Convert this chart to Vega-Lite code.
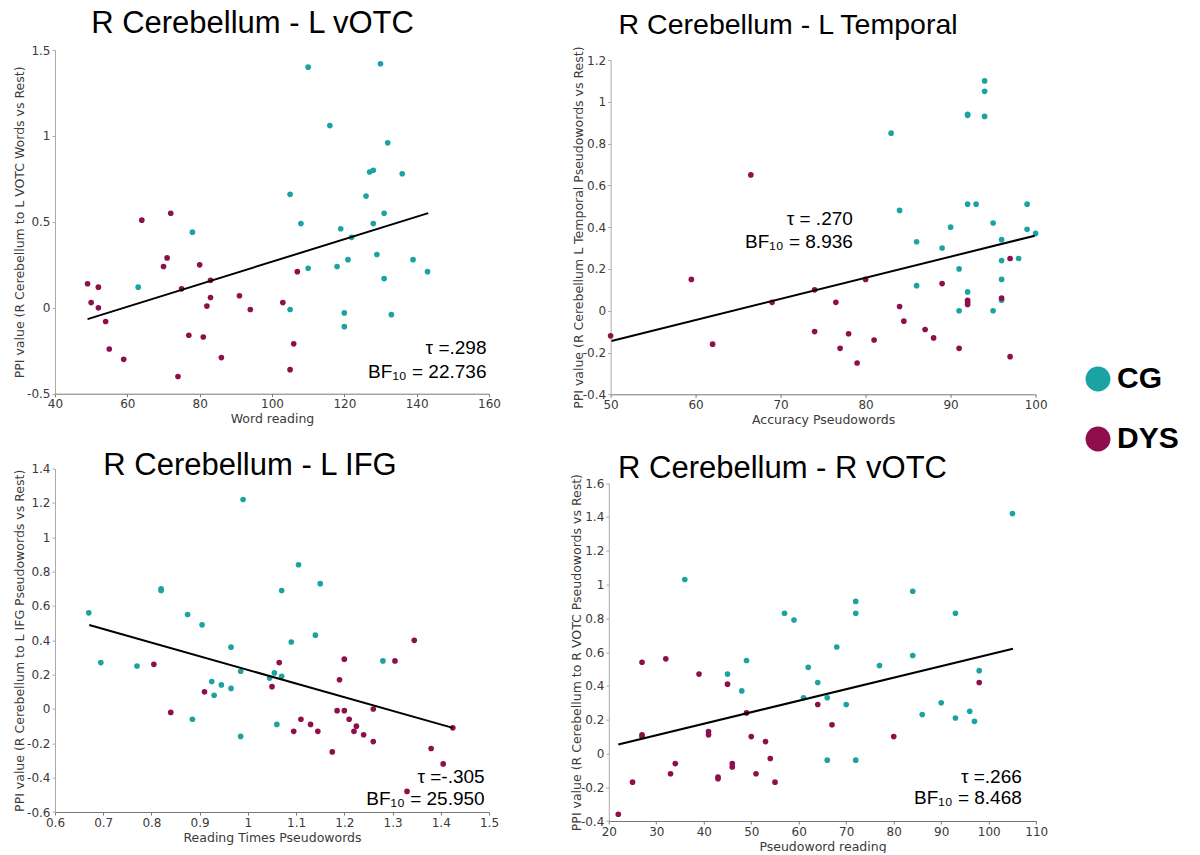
{
  "$schema": "https://vega.github.io/schema/vega-lite/v6.json",
  "padding": {"left": 13, "top": 8, "right": 0, "bottom": 0},
  "background": "white",
  "datasets": {
    "p1": [
      {"x":110,"y":1.40,"group":"CG"},{"x":130,"y":1.42,"group":"CG"},{"x":116,"y":1.06,"group":"CG"},{"x":132,"y":0.96,"group":"CG"},
      {"x":127,"y":0.79,"group":"CG"},{"x":128,"y":0.80,"group":"CG"},{"x":136,"y":0.78,"group":"CG"},{"x":105,"y":0.66,"group":"CG"},
      {"x":126,"y":0.65,"group":"CG"},{"x":131,"y":0.55,"group":"CG"},{"x":108,"y":0.49,"group":"CG"},{"x":119,"y":0.46,"group":"CG"},
      {"x":128,"y":0.49,"group":"CG"},{"x":122,"y":0.41,"group":"CG"},{"x":78,"y":0.44,"group":"CG"},{"x":63,"y":0.12,"group":"CG"},
      {"x":129,"y":0.31,"group":"CG"},{"x":139,"y":0.28,"group":"CG"},{"x":121,"y":0.28,"group":"CG"},{"x":118,"y":0.24,"group":"CG"},
      {"x":110,"y":0.23,"group":"CG"},{"x":143,"y":0.21,"group":"CG"},{"x":131,"y":0.17,"group":"CG"},{"x":105,"y":-0.01,"group":"CG"},
      {"x":120,"y":-0.03,"group":"CG"},{"x":133,"y":-0.04,"group":"CG"},{"x":120,"y":-0.11,"group":"CG"},
      {"x":64,"y":0.51,"group":"DYS"},{"x":72,"y":0.55,"group":"DYS"},{"x":71,"y":0.29,"group":"DYS"},{"x":70,"y":0.24,"group":"DYS"},
      {"x":80,"y":0.25,"group":"DYS"},{"x":49,"y":0.14,"group":"DYS"},{"x":52,"y":0.12,"group":"DYS"},{"x":83,"y":0.16,"group":"DYS"},
      {"x":75,"y":0.11,"group":"DYS"},{"x":91,"y":0.07,"group":"DYS"},{"x":83,"y":0.06,"group":"DYS"},{"x":50,"y":0.03,"group":"DYS"},
      {"x":82,"y":0.01,"group":"DYS"},{"x":52,"y":0.0,"group":"DYS"},{"x":94,"y":-0.01,"group":"DYS"},{"x":54,"y":-0.08,"group":"DYS"},
      {"x":77,"y":-0.16,"group":"DYS"},{"x":81,"y":-0.17,"group":"DYS"},{"x":55,"y":-0.24,"group":"DYS"},{"x":59,"y":-0.30,"group":"DYS"},
      {"x":86,"y":-0.29,"group":"DYS"},{"x":74,"y":-0.40,"group":"DYS"},{"x":107,"y":0.21,"group":"DYS"},{"x":103,"y":0.03,"group":"DYS"},
      {"x":106,"y":-0.21,"group":"DYS"},{"x":105,"y":-0.36,"group":"DYS"}
    ],
    "p2": [
      {"x":94,"y":1.10,"group":"CG"},{"x":94,"y":1.05,"group":"CG"},{"x":92,"y":0.94,"group":"CG"},{"x":92,"y":0.935,"group":"CG"},
      {"x":94,"y":0.93,"group":"CG"},{"x":83,"y":0.85,"group":"CG"},{"x":84,"y":0.48,"group":"CG"},{"x":92,"y":0.51,"group":"CG"},
      {"x":93,"y":0.51,"group":"CG"},{"x":99,"y":0.51,"group":"CG"},{"x":95,"y":0.42,"group":"CG"},{"x":90,"y":0.40,"group":"CG"},
      {"x":99,"y":0.39,"group":"CG"},{"x":100,"y":0.37,"group":"CG"},{"x":86,"y":0.33,"group":"CG"},{"x":96,"y":0.34,"group":"CG"},
      {"x":89,"y":0.30,"group":"CG"},{"x":96,"y":0.24,"group":"CG"},{"x":98,"y":0.25,"group":"CG"},{"x":91,"y":0.20,"group":"CG"},
      {"x":96,"y":0.15,"group":"CG"},{"x":86,"y":0.12,"group":"CG"},{"x":92,"y":0.09,"group":"CG"},{"x":96,"y":0.05,"group":"CG"},
      {"x":91,"y":0.00,"group":"CG"},{"x":95,"y":0.00,"group":"CG"},
      {"x":66.5,"y":0.65,"group":"DYS"},{"x":59.5,"y":0.15,"group":"DYS"},{"x":50,"y":-0.12,"group":"DYS"},{"x":62,"y":-0.16,"group":"DYS"},
      {"x":69,"y":0.04,"group":"DYS"},{"x":74,"y":0.10,"group":"DYS"},{"x":74,"y":-0.10,"group":"DYS"},{"x":76.5,"y":0.04,"group":"DYS"},
      {"x":77,"y":-0.18,"group":"DYS"},{"x":80,"y":0.15,"group":"DYS"},{"x":97,"y":0.25,"group":"DYS"},{"x":89,"y":0.13,"group":"DYS"},
      {"x":92,"y":0.05,"group":"DYS"},{"x":92,"y":0.04,"group":"DYS"},{"x":92,"y":0.03,"group":"DYS"},{"x":96,"y":0.06,"group":"DYS"},
      {"x":84,"y":0.02,"group":"DYS"},{"x":84.5,"y":-0.05,"group":"DYS"},{"x":78,"y":-0.11,"group":"DYS"},{"x":87,"y":-0.09,"group":"DYS"},
      {"x":88,"y":-0.13,"group":"DYS"},{"x":81,"y":-0.14,"group":"DYS"},{"x":91,"y":-0.18,"group":"DYS"},{"x":79,"y":-0.25,"group":"DYS"},
      {"x":97,"y":-0.22,"group":"DYS"}
    ],
    "p3": [
      {"x":0.99,"y":1.22,"group":"CG"},{"x":0.67,"y":0.56,"group":"CG"},{"x":0.82,"y":0.69,"group":"CG"},{"x":0.82,"y":0.70,"group":"CG"},
      {"x":0.875,"y":0.55,"group":"CG"},{"x":0.905,"y":0.49,"group":"CG"},{"x":0.965,"y":0.36,"group":"CG"},{"x":1.105,"y":0.84,"group":"CG"},
      {"x":1.07,"y":0.69,"group":"CG"},{"x":1.15,"y":0.73,"group":"CG"},{"x":1.09,"y":0.39,"group":"CG"},{"x":1.14,"y":0.43,"group":"CG"},
      {"x":0.695,"y":0.27,"group":"CG"},{"x":0.77,"y":0.25,"group":"CG"},{"x":0.985,"y":0.22,"group":"CG"},{"x":0.925,"y":0.16,"group":"CG"},
      {"x":0.945,"y":0.14,"group":"CG"},{"x":0.965,"y":0.12,"group":"CG"},{"x":0.93,"y":0.08,"group":"CG"},{"x":0.885,"y":-0.06,"group":"CG"},
      {"x":0.985,"y":-0.16,"group":"CG"},{"x":1.055,"y":0.21,"group":"CG"},{"x":1.07,"y":0.19,"group":"CG"},{"x":1.045,"y":0.18,"group":"CG"},
      {"x":1.06,"y":-0.09,"group":"CG"},{"x":1.28,"y":0.28,"group":"CG"},
      {"x":1.345,"y":0.40,"group":"DYS"},{"x":0.805,"y":0.26,"group":"DYS"},{"x":0.91,"y":0.10,"group":"DYS"},{"x":0.84,"y":-0.02,"group":"DYS"},
      {"x":1.065,"y":0.27,"group":"DYS"},{"x":1.05,"y":0.13,"group":"DYS"},{"x":1.11,"y":-0.06,"group":"DYS"},{"x":1.095,"y":-0.13,"group":"DYS"},
      {"x":1.13,"y":-0.09,"group":"DYS"},{"x":1.145,"y":-0.13,"group":"DYS"},{"x":1.175,"y":-0.25,"group":"DYS"},{"x":1.19,"y":0.17,"group":"DYS"},
      {"x":1.20,"y":0.29,"group":"DYS"},{"x":1.185,"y":-0.01,"group":"DYS"},{"x":1.20,"y":-0.01,"group":"DYS"},{"x":1.21,"y":-0.06,"group":"DYS"},
      {"x":1.225,"y":-0.10,"group":"DYS"},{"x":1.22,"y":-0.13,"group":"DYS"},{"x":1.24,"y":-0.15,"group":"DYS"},{"x":1.26,"y":-0.19,"group":"DYS"},
      {"x":1.26,"y":0.0,"group":"DYS"},{"x":1.305,"y":0.28,"group":"DYS"},{"x":1.38,"y":-0.23,"group":"DYS"},{"x":1.405,"y":-0.32,"group":"DYS"},
      {"x":1.33,"y":-0.48,"group":"DYS"},{"x":1.425,"y":-0.11,"group":"DYS"}
    ],
    "p4": [
      {"x":105,"y":1.42,"group":"CG"},{"x":36,"y":1.03,"group":"CG"},{"x":84,"y":0.96,"group":"CG"},{"x":72,"y":0.90,"group":"CG"},
      {"x":72,"y":0.83,"group":"CG"},{"x":93,"y":0.83,"group":"CG"},{"x":57,"y":0.83,"group":"CG"},{"x":59,"y":0.79,"group":"CG"},
      {"x":68,"y":0.63,"group":"CG"},{"x":84,"y":0.58,"group":"CG"},{"x":77,"y":0.52,"group":"CG"},{"x":62,"y":0.51,"group":"CG"},
      {"x":49,"y":0.55,"group":"CG"},{"x":98,"y":0.49,"group":"CG"},{"x":45,"y":0.47,"group":"CG"},{"x":48,"y":0.37,"group":"CG"},
      {"x":64,"y":0.42,"group":"CG"},{"x":61,"y":0.33,"group":"CG"},{"x":66,"y":0.33,"group":"CG"},{"x":70,"y":0.29,"group":"CG"},
      {"x":90,"y":0.30,"group":"CG"},{"x":86,"y":0.23,"group":"CG"},{"x":96,"y":0.25,"group":"CG"},{"x":93,"y":0.21,"group":"CG"},
      {"x":97,"y":0.19,"group":"CG"},{"x":66,"y":-0.04,"group":"CG"},{"x":72,"y":-0.04,"group":"CG"},
      {"x":98,"y":0.42,"group":"DYS"},{"x":27,"y":0.54,"group":"DYS"},{"x":32,"y":0.56,"group":"DYS"},{"x":39,"y":0.47,"group":"DYS"},
      {"x":45,"y":0.41,"group":"DYS"},{"x":49,"y":0.24,"group":"DYS"},{"x":64,"y":0.29,"group":"DYS"},{"x":67,"y":0.17,"group":"DYS"},
      {"x":80,"y":0.10,"group":"DYS"},{"x":27,"y":0.11,"group":"DYS"},{"x":27,"y":0.10,"group":"DYS"},{"x":41,"y":0.13,"group":"DYS"},
      {"x":41,"y":0.11,"group":"DYS"},{"x":50,"y":0.10,"group":"DYS"},{"x":53,"y":0.07,"group":"DYS"},{"x":54,"y":-0.03,"group":"DYS"},
      {"x":34,"y":-0.06,"group":"DYS"},{"x":46,"y":-0.06,"group":"DYS"},{"x":46,"y":-0.08,"group":"DYS"},{"x":33,"y":-0.12,"group":"DYS"},
      {"x":51,"y":-0.12,"group":"DYS"},{"x":43,"y":-0.14,"group":"DYS"},{"x":43,"y":-0.15,"group":"DYS"},{"x":25,"y":-0.17,"group":"DYS"},
      {"x":55,"y":-0.17,"group":"DYS"},{"x":22,"y":-0.36,"group":"DYS"}
    ],
    "l1": [{"x":49,"y":-0.066},{"x":143.2,"y":0.551}],
    "l2": [{"x":50.1,"y":-0.145},{"x":99.9,"y":0.359}],
    "l3": [{"x":0.671,"y":0.489},{"x":1.425,"y":-0.11}],
    "l4": [{"x":22,"y":0.053},{"x":105.1,"y":0.62}]
  },
  "config": {
    "view": {"stroke": null},
    "axis": {
      "grid": false, "labelOverlap": false, "tickCount": 40, "labelFlush": false,
      "labelFont": "DejaVu Sans", "labelFontSize": 12, "labelColor": "#3a3a3a",
      "titleFont": "DejaVu Sans", "titleFontSize": 12.5, "titleFontWeight": "normal", "titleColor": "#3a3a3a",
      "tickSize": 3, "tickColor": "#777777", "domainColor": "#777777", "labelPadding": 2, "titlePadding": 3
    },
    "axisY": {"domainColor": "#aaaaaa", "tickColor": "#aaaaaa", "titlePadding": 0},
    "title": {"font": "Liberation Sans", "fontSize": 31, "fontWeight": "normal", "color": "#000000", "anchor": "middle", "frame": "group"},
    "legend": {
      "orient": "none", "legendX": 1028, "legendY": 314, "title": null, "padding": 0,
      "symbolType": "circle", "symbolSize": 620, "symbolOpacity": 1, "symbolStrokeWidth": 0,
      "labelFont": "Liberation Sans", "labelFontSize": 30, "labelFontWeight": "bold", "labelColor": "#000000",
      "rowPadding": 30, "labelOffset": 4
    }
  },
  "spacing": 23.6,
  "vconcat": [
    {
      "spacing": 70.6,
      "hconcat": [
        {
          "title": {"text": "R Cerebellum - L vOTC", "offset": 4, "dx": -19.5},
          "width": 434, "height": 343.7,
          "layer": [
            {"data": {"name": "p1"}, "mark": {"type": "circle", "size": 32, "opacity": 1},
             "encoding": {
               "x": {"field": "x", "type": "quantitative", "scale": {"domain": [40, 160], "nice": false, "zero": false},
                     "axis": {"values": [40, 60, 80, 100, 120, 140, 160], "labelExpr": "datum.value + ''", "title": "Word reading"}},
               "y": {"field": "y", "type": "quantitative", "scale": {"domain": [-0.5, 1.5], "nice": false, "zero": false},
                     "axis": {"values": [-0.5, 0, 0.5, 1, 1.5], "labelExpr": "datum.value + ''", "title": "PPI value (R Cerebellum to L VOTC Words vs Rest)"}},
               "color": {"field": "group", "type": "nominal", "scale": {"domain": ["CG", "DYS"], "range": ["#1ba3a3", "#8e0f4b"]}}
             }},
            {"data": {"name": "l1"}, "mark": {"type": "line", "color": "#000000", "strokeWidth": 2},
             "encoding": {"x": {"field": "x", "type": "quantitative"}, "y": {"field": "y", "type": "quantitative"}}},
            {"data": {"values": [{"t": "τ =.298"}]}, "mark": {"type": "text", "align": "right", "baseline": "alphabetic", "font": "Liberation Sans", "fontSize": 19, "color": "#000000"},
             "encoding": {"x": {"datum": 159.3, "type": "quantitative"}, "y": {"datum": -0.27, "type": "quantitative"}, "text": {"field": "t"}}},
            {"data": {"values": [{"t": "BF₁₀ = 22.736"}]}, "mark": {"type": "text", "align": "right", "baseline": "alphabetic", "font": "Liberation Sans", "fontSize": 19, "color": "#000000"},
             "encoding": {"x": {"datum": 159.3, "type": "quantitative"}, "y": {"datum": -0.407, "type": "quantitative"}, "text": {"field": "t"}}}
          ]
        },
        {
          "title": {"text": "R Cerebellum - L Temporal", "offset": 6, "dx": -35, "fontSize": 28.5},
          "width": 425, "height": 344.3,
          "layer": [
            {"data": {"name": "p2"}, "mark": {"type": "circle", "size": 32, "opacity": 1},
             "encoding": {
               "x": {"field": "x", "type": "quantitative", "scale": {"domain": [50, 100], "nice": false, "zero": false},
                     "axis": {"values": [50, 60, 70, 80, 90, 100], "labelExpr": "datum.value + ''", "title": "Accuracy Pseudowords"}},
               "y": {"field": "y", "type": "quantitative", "scale": {"domain": [-0.4, 1.2], "nice": false, "zero": false, "range": [344.3, 10]},
                     "axis": {"values": [-0.4, -0.2, 0, 0.2, 0.4, 0.6, 0.8, 1, 1.2], "labelExpr": "datum.value + ''", "title": "PPI value (R Cerebellum L Temporal Pseudowords vs Rest)", "titlePadding": -3}},
               "color": {"field": "group", "type": "nominal", "scale": {"domain": ["CG", "DYS"], "range": ["#1ba3a3", "#8e0f4b"]}}
             }},
            {"data": {"name": "l2"}, "mark": {"type": "line", "color": "#000000", "strokeWidth": 2},
             "encoding": {"x": {"field": "x", "type": "quantitative"}, "y": {"field": "y", "type": "quantitative"}}},
            {"data": {"values": [{"t": "τ = .270"}]}, "mark": {"type": "text", "align": "right", "baseline": "alphabetic", "font": "Liberation Sans", "fontSize": 19, "color": "#000000"},
             "encoding": {"x": {"datum": 78.5, "type": "quantitative"}, "y": {"datum": 0.409, "type": "quantitative"}, "text": {"field": "t"}}},
            {"data": {"values": [{"t": "BF₁₀ = 8.936"}]}, "mark": {"type": "text", "align": "right", "baseline": "alphabetic", "font": "Liberation Sans", "fontSize": 19, "color": "#000000"},
             "encoding": {"x": {"datum": 78.5, "type": "quantitative"}, "y": {"datum": 0.302, "type": "quantitative"}, "text": {"field": "t"}}}
          ]
        }
      ]
    },
    {
      "spacing": 70.8,
      "hconcat": [
        {
          "title": {"text": "R Cerebellum - L IFG", "offset": -19.2, "dx": -22},
          "width": 434, "height": 343.4,
          "layer": [
            {"data": {"name": "p3"}, "mark": {"type": "circle", "size": 32, "opacity": 1},
             "encoding": {
               "x": {"field": "x", "type": "quantitative", "scale": {"domain": [0.6, 1.5], "nice": false, "zero": false},
                     "axis": {"values": [0.6, 0.7, 0.8, 0.9, 1, 1.1, 1.2, 1.3, 1.4, 1.5], "labelExpr": "datum.value + ''", "title": "Reading Times Pseudowords"}},
               "y": {"field": "y", "type": "quantitative", "scale": {"domain": [-0.6, 1.4], "nice": false, "zero": false},
                     "axis": {"values": [-0.6, -0.4, -0.2, 0, 0.2, 0.4, 0.6, 0.8, 1, 1.2, 1.4], "labelExpr": "datum.value + ''", "title": "PPI value (R Cerebellum to L IFG Pseudowords vs Rest)"}},
               "color": {"field": "group", "type": "nominal", "scale": {"domain": ["CG", "DYS"], "range": ["#1ba3a3", "#8e0f4b"]}}
             }},
            {"data": {"name": "l3"}, "mark": {"type": "line", "color": "#000000", "strokeWidth": 2},
             "encoding": {"x": {"field": "x", "type": "quantitative"}, "y": {"field": "y", "type": "quantitative"}}},
            {"data": {"values": [{"t": "τ =-.305"}]}, "mark": {"type": "text", "align": "right", "baseline": "alphabetic", "font": "Liberation Sans", "fontSize": 19, "color": "#000000"},
             "encoding": {"x": {"datum": 1.491, "type": "quantitative"}, "y": {"datum": -0.429, "type": "quantitative"}, "text": {"field": "t"}}},
            {"data": {"values": [{"t": "BF₁₀ = 25.950"}]}, "mark": {"type": "text", "align": "right", "baseline": "alphabetic", "font": "Liberation Sans", "fontSize": 19, "color": "#000000"},
             "encoding": {"x": {"datum": 1.491, "type": "quantitative"}, "y": {"datum": -0.559, "type": "quantitative"}, "text": {"field": "t"}}}
          ]
        },
        {
          "title": {"text": "R Cerebellum - R vOTC", "offset": -16.6, "dx": -40},
          "width": 427.4, "height": 352.4,
          "layer": [
            {"data": {"name": "p4"}, "mark": {"type": "circle", "size": 32, "opacity": 1},
             "encoding": {
               "x": {"field": "x", "type": "quantitative", "scale": {"domain": [20, 110], "nice": false, "zero": false},
                     "axis": {"values": [20, 30, 40, 50, 60, 70, 80, 90, 100, 110], "labelExpr": "datum.value + ''", "title": "Pseudoword reading"}},
               "y": {"field": "y", "type": "quantitative", "scale": {"domain": [-0.4, 1.6], "nice": false, "zero": false, "range": [352.4, 14.6]},
                     "axis": {"values": [-0.4, -0.2, 0, 0.2, 0.4, 0.6, 0.8, 1, 1.2, 1.4, 1.6], "labelExpr": "datum.value + ''", "title": "PPI value (R Cerebellum to R VOTC Pseudowords vs Rest)", "titlePadding": -3}},
               "color": {"field": "group", "type": "nominal", "scale": {"domain": ["CG", "DYS"], "range": ["#1ba3a3", "#8e0f4b"]}}
             }},
            {"data": {"name": "l4"}, "mark": {"type": "line", "color": "#000000", "strokeWidth": 2},
             "encoding": {"x": {"field": "x", "type": "quantitative"}, "y": {"field": "y", "type": "quantitative"}}},
            {"data": {"values": [{"t": "τ =.266"}]}, "mark": {"type": "text", "align": "right", "baseline": "alphabetic", "font": "Liberation Sans", "fontSize": 19, "color": "#000000"},
             "encoding": {"x": {"datum": 106.97, "type": "quantitative"}, "y": {"datum": -0.173, "type": "quantitative"}, "text": {"field": "t"}}},
            {"data": {"values": [{"t": "BF₁₀ = 8.468"}]}, "mark": {"type": "text", "align": "right", "baseline": "alphabetic", "font": "Liberation Sans", "fontSize": 19, "color": "#000000"},
             "encoding": {"x": {"datum": 106.97, "type": "quantitative"}, "y": {"datum": -0.301, "type": "quantitative"}, "text": {"field": "t"}}}
          ]
        }
      ]
    }
  ]
}
